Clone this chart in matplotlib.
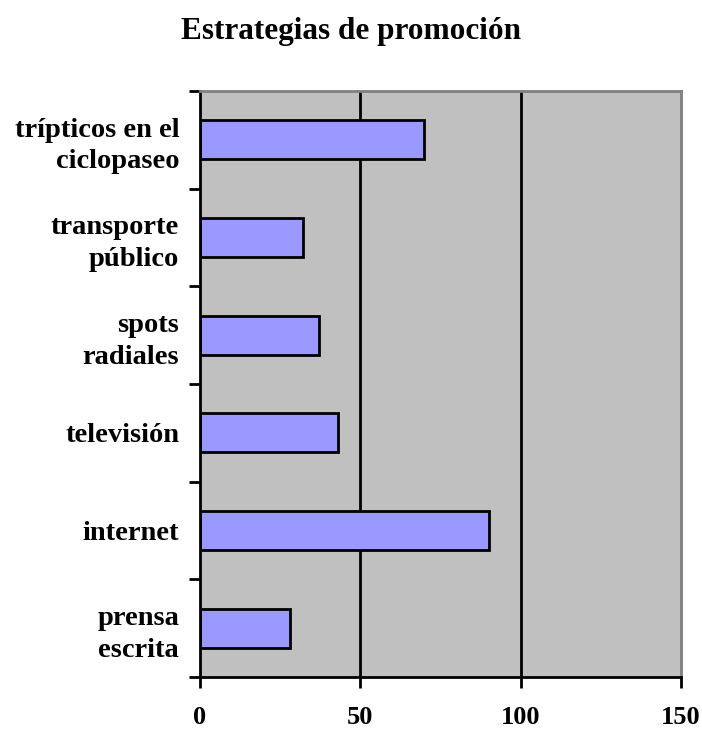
import matplotlib
matplotlib.use("Agg")
import matplotlib.pyplot as plt
import numpy as np

categories = ["prensa\nescrita", "internet", "televisión", "spots\nradiales",
              "transporte\npúblico", "trípticos en el\nciclopaseo"]
values = [28, 90, 43, 37, 32, 70]
xticks = [0, 50, 100, 150]

plt.rcParams['font.family'] = ['Liberation Serif', 'DejaVu Serif']

fig = plt.figure(figsize=(7.02, 7.31), dpi=100)
ax = fig.add_axes([200/702, 1-677/731, 481/702, 586/731])
ax.set_facecolor('#C0C0C0')

y = np.arange(len(categories))
ax.set_xlim(0, 150)
ax.set_ylim(-0.5, len(categories) - 0.5)

for xv in xticks[1:-1]:
    ax.axvline(xv, color='black', linewidth=2, zorder=1)

ax.barh(y, values, height=0.4, color='#9999FF', edgecolor='black',
        linewidth=2, zorder=2)

ax.set_xticks(xticks)
ax.set_xticklabels([str(v) for v in xticks], fontsize=19, fontweight='bold')
ax.set_yticks(y)
ax.set_yticklabels(categories, fontsize=20.5, fontweight='bold',
                   multialignment='right', linespacing=1.35)
ax.tick_params(axis='y', which='major', length=0, pad=15)
ax.set_yticks(np.arange(-0.5, len(categories)), minor=True)
ax.tick_params(axis='y', which='minor', length=8, width=2, direction='out')
ax.tick_params(axis='x', which='major', length=8, width=2, direction='out', pad=13)

for s in ['left', 'bottom']:
    ax.spines[s].set_color('black')
    ax.spines[s].set_linewidth(2)
for s in ['top', 'right']:
    ax.spines[s].set_color('#808080')
    ax.spines[s].set_linewidth(2)

fig.text(0.5, 1-31/731, "Estrategias de promoción", ha='center', va='center',
         fontsize=22.5, fontweight='bold')

fig.savefig("out.png", dpi=100)
